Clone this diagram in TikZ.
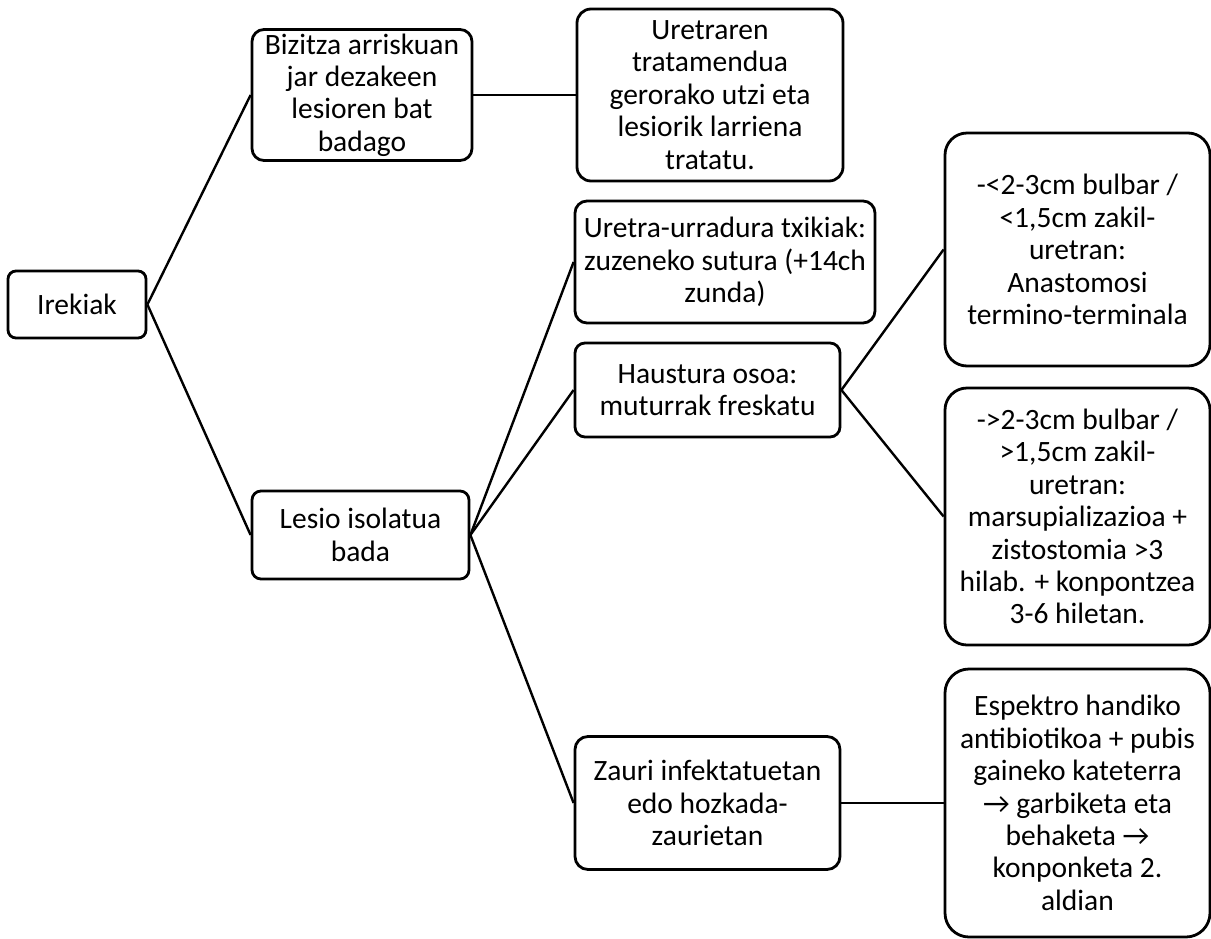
\documentclass[tikz,border=0pt]{standalone}
\usepackage{fontspec}
\setmainfont{Carlito}
\begin{document}
\begin{tikzpicture}[x=1pt,y=-1pt,
  box/.style={draw=black, line width=2.8pt, fill=white, align=center, inner sep=0pt,
    font=\fontsize{29.5}{32.4}\selectfont},
  link/.style={draw=black, line width=2.4pt}]
\useasboundingbox (0,0) rectangle (1211,938);

% first level
\node[box, rounded corners=8pt, minimum width=138pt, minimum height=67pt] (irekiak) at (77,304.5) {Irekiak};

% second level
\node[box, rounded corners=12pt, minimum width=220pt, minimum height=131pt] (bizitza) at (362,95)
  {Bizitza arriskuan\\jar dezakeen\\lesioren bat\\badago};
\node[box, rounded corners=9pt, minimum width=217pt, minimum height=88pt] (lesio) at (360.5,535)
  {Lesio isolatua\\bada};

% third level
\node[box, rounded corners=14pt, minimum width=266pt, minimum height=172pt] (uretraren) at (710,95)
  {Uretraren\\tratamendua\\gerorako utzi eta\\lesiorik larriena\\tratatu.};
\node[box, rounded corners=12pt, minimum width=300pt, minimum height=122pt] (urradura) at (725,262)
  {Uretra-urradura txikiak:\\zuzeneko sutura (+14ch\\zunda)};
\node[box, rounded corners=10pt, minimum width=265pt, minimum height=94pt] (haustura) at (707.5,390)
  {Haustura osoa:\\muturrak freskatu};
\node[box, rounded corners=13pt, minimum width=265pt, minimum height=133pt] (zauri) at (707.5,803)
  {Zauri infektatuetan\\edo hozkada-\\zaurietan};

% fourth level
\node[box, rounded corners=22pt, minimum width=265pt, minimum height=233pt] (laburra) at (1077.5,249.5)
  {-<2-3cm bulbar /\\<1,5cm zakil-\\uretran:\\Anastomosi\\termino-terminala};
\node[box, rounded corners=22pt, minimum width=265pt, minimum height=257pt] (luzea) at (1077.5,516.5)
  {->2-3cm bulbar /\\>1,5cm zakil-\\uretran:\\marsupializazioa +\\zistostomia >3\\hilab. + konpontzea\\3-6 hiletan.};
\node[box, rounded corners=24pt, minimum width=265pt, minimum height=268pt] (espektro) at (1077.5,803)
  {Espektro handiko\\antibiotikoa + pubis\\gaineko kateterra\\→ garbiketa eta\\behaketa →\\konponketa 2.\\aldian};

% connectors
\draw[link] (irekiak.east) -- (bizitza.west);
\draw[link] (irekiak.east) -- (lesio.west);
\draw[link] (bizitza.east) -- (uretraren.west);
\draw[link] (lesio.east) -- (urradura.west);
\draw[link] (lesio.east) -- (haustura.west);
\draw[link] (lesio.east) -- (zauri.west);
\draw[link] (haustura.east) -- (laburra.west);
\draw[link] (haustura.east) -- (luzea.west);
\draw[link] (zauri.east) -- (espektro.west);
\end{tikzpicture}
\end{document}
